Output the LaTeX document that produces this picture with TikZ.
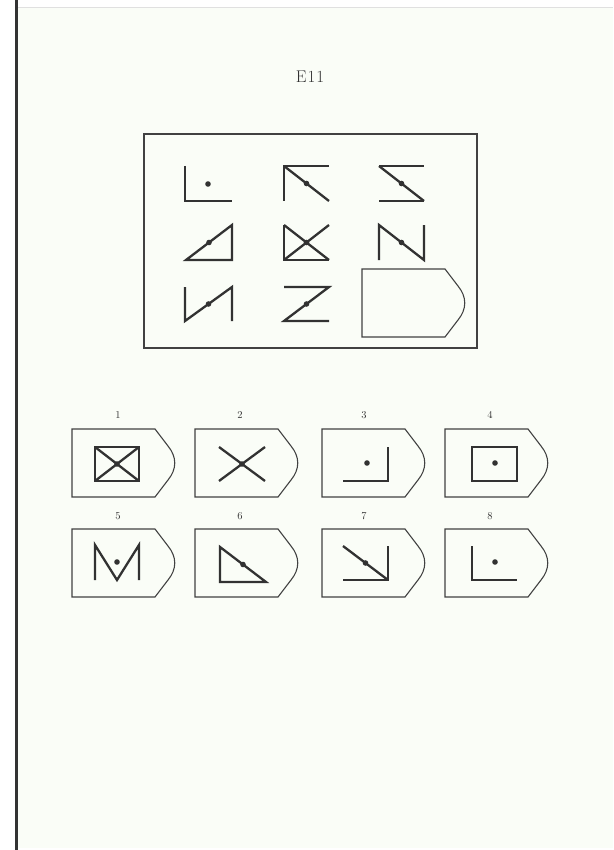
\documentclass[tikz,border=0pt]{standalone}
\begin{document}
\begin{tikzpicture}[x=1pt,y=-1pt,
  fig/.style={line width=2.3pt,draw=figgray,line join=miter},
  boxline/.style={line width=1.1pt,draw=boxgray},
  dotmark/.style={fill=figgray,draw=none},
  lbl/.style={font=\fontsize{10.5}{10.5}\selectfont,text=figgray,inner sep=0pt},
  ansshape/.pic={\draw[boxline] (0,0) -- (83,0) -- (96,17) .. controls (105,28) and (105,40) .. (96,51) -- (83,68) -- (0,68) -- cycle;}]
\definecolor{figgray}{RGB}{50,50,50}
\definecolor{boxgray}{RGB}{65,65,65}
\definecolor{paper}{RGB}{250,253,247}
\useasboundingbox (0,0) rectangle (613,850);
\fill[white] (0,0) rectangle (613,850);
\fill[paper] (17,7) rectangle (613,848);
\draw[line width=0.6pt,draw=black!12] (18,7) -- (613,7);
\draw[line width=2.4pt,draw=black!80] (16.5,0) -- (16.5,850);
% title
\node[font=\fontsize{17}{17}\selectfont,text=figgray,inner sep=0pt] (title) at (310,77) {E\kern1pt1\kern1pt1};
% matrix frame
\draw[line width=1.2pt,draw=boxgray] (144,134) rectangle (477,348);
% row 1
\draw[fig] (185,166) -- (185,201) -- (232,201);
\fill[dotmark] (208,184) circle (2.8);
\draw[fig] (284,201) -- (284,166) -- (329,166);
\draw[fig] (284,166) -- (329,201);
\fill[dotmark] (306.5,183.5) circle (2.8);
\draw[fig] (379,166) -- (424,166);
\draw[fig] (379,166) -- (424,201);
\draw[fig] (379,201) -- (424,201);
\fill[dotmark] (401.5,183.5) circle (2.8);
% row 2
\draw[fig] (186,260) -- (232,260) -- (232,225) -- cycle;
\fill[dotmark] (209,242.5) circle (2.8);
\draw[fig] (284,225) -- (284,260) -- (329,260);
\draw[fig] (284,225) -- (329,260);
\draw[fig] (329,225) -- (284,260);
\fill[dotmark] (306.5,242.5) circle (2.8);
\draw[fig] (379,260) -- (379,225) -- (424,260) -- (424,225);
\fill[dotmark] (401.5,242.5) circle (2.8);
% row 3
\draw[fig] (185,287) -- (185,321) -- (232,287) -- (232,321);
\fill[dotmark] (208.5,304) circle (2.8);
\draw[fig] (284,287) -- (329,287) -- (284,321) -- (329,321);
\fill[dotmark] (306.5,304) circle (2.8);
\pic at (362,269) {ansshape};
% answer boxes
\pic at (72,429) {ansshape};
\pic at (195,429) {ansshape};
\pic at (322,429) {ansshape};
\pic at (445,429) {ansshape};
\pic at (72,529) {ansshape};
\pic at (195,529) {ansshape};
\pic at (322,529) {ansshape};
\pic at (445,529) {ansshape};
\node[lbl] (l1) at (118,415) {1};
\node[lbl] (l2) at (240,415) {2};
\node[lbl] (l3) at (364,415) {3};
\node[lbl] (l4) at (490,415) {4};
\node[lbl] (l5) at (118,516) {5};
\node[lbl] (l6) at (240,516) {6};
\node[lbl] (l7) at (364,516) {7};
\node[lbl] (l8) at (490,516) {8};
% answer 1
\draw[fig] (95,447) rectangle (139,481);
\draw[fig] (95,447) -- (139,481);
\draw[fig] (139,447) -- (95,481);
\fill[dotmark] (117,464) circle (2.8);
% answer 2
\draw[fig] (219,447) -- (265,481);
\draw[fig] (265,447) -- (219,481);
\fill[dotmark] (242,464) circle (2.8);
% answer 3
\draw[fig] (343,481) -- (388,481) -- (388,447);
\fill[dotmark] (367,463) circle (2.8);
% answer 4
\draw[fig] (472,447) rectangle (517,481);
\fill[dotmark] (495,463) circle (2.8);
% answer 5
\draw[fig] (95,580) -- (95,545) -- (117,580) -- (139,545) -- (139,580);
\fill[dotmark] (117,562) circle (2.8);
% answer 6
\draw[fig] (220,547) -- (220,582) -- (266,582) -- cycle;
\fill[dotmark] (243,564.5) circle (2.8);
% answer 7
\draw[fig] (343,546) -- (388,580);
\draw[fig] (388,546) -- (388,580) -- (343,580);
\fill[dotmark] (365.5,563) circle (2.8);
% answer 8
\draw[fig] (472,546) -- (472,580) -- (517,580);
\fill[dotmark] (495,562) circle (2.8);
\end{tikzpicture}
\end{document}
